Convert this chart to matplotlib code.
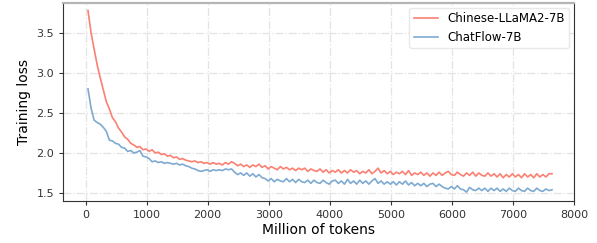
import numpy as np
import matplotlib
matplotlib.use("Agg")
import matplotlib.pyplot as plt

# Trainingsverlauf
tokens = np.arange(40, 7641, 50)

loss_llama = [
    3.78, 3.50, 3.30, 3.10, 2.94, 2.79, 2.64, 2.55, 2.44, 2.39,
    2.31, 2.26, 2.20, 2.17, 2.12, 2.10, 2.07, 2.08, 2.04, 2.05,
    2.02, 2.04, 2.00, 2.01, 1.98, 1.99, 1.96, 1.97, 1.94, 1.95,
    1.92, 1.93, 1.91, 1.90, 1.89, 1.90, 1.88, 1.89, 1.87, 1.88,
    1.86, 1.88, 1.86, 1.87, 1.85, 1.88, 1.86, 1.89,
    1.87, 1.84, 1.86, 1.83, 1.85, 1.82, 1.85, 1.83, 1.86, 1.82,
    1.84, 1.80, 1.83, 1.81, 1.79, 1.83, 1.80, 1.82, 1.79, 1.81,
    1.78, 1.81, 1.79, 1.81, 1.77, 1.80, 1.78, 1.77, 1.80, 1.76,
    1.79, 1.75, 1.78, 1.76, 1.79, 1.75, 1.78, 1.75, 1.79, 1.76,
    1.78, 1.74, 1.77, 1.75, 1.79, 1.74, 1.77, 1.81, 1.75, 1.78,
    1.74, 1.77, 1.73, 1.76, 1.74, 1.77, 1.73, 1.78, 1.72, 1.75,
    1.73, 1.76, 1.72, 1.75, 1.71, 1.75, 1.72, 1.76, 1.72, 1.75,
    1.77, 1.73, 1.72, 1.76, 1.73, 1.71, 1.75, 1.72, 1.76, 1.71,
    1.75, 1.72, 1.71, 1.75, 1.71, 1.74, 1.70, 1.74, 1.69, 1.73,
    1.70, 1.74, 1.70, 1.73, 1.69, 1.74, 1.70, 1.73, 1.69, 1.74,
    1.70, 1.73, 1.70, 1.74, 1.74,
]

loss_chatflow = [
    2.80, 2.56, 2.41, 2.38, 2.36, 2.32, 2.27, 2.16, 2.15, 2.12,
    2.11, 2.07, 2.06, 2.02, 2.03, 2.00, 2.01, 2.03, 1.96, 1.95,
    1.93, 1.89, 1.90, 1.88, 1.89, 1.87, 1.88, 1.87, 1.86, 1.87,
    1.85, 1.86, 1.84, 1.83, 1.81, 1.80, 1.78, 1.77, 1.78, 1.79,
    1.77, 1.79, 1.78, 1.79, 1.78, 1.80, 1.79, 1.80,
    1.76, 1.73, 1.75, 1.72, 1.75, 1.71, 1.74, 1.70, 1.73, 1.69,
    1.68, 1.65, 1.68, 1.64, 1.67, 1.65, 1.64, 1.68, 1.64, 1.67,
    1.63, 1.67, 1.64, 1.63, 1.66, 1.62, 1.66, 1.63, 1.62, 1.66,
    1.63, 1.61, 1.65, 1.66, 1.62, 1.65, 1.61, 1.67, 1.62, 1.65,
    1.61, 1.66, 1.62, 1.65, 1.61, 1.65, 1.68, 1.62, 1.65, 1.61,
    1.64, 1.61, 1.64, 1.60, 1.64, 1.61, 1.65, 1.60, 1.63, 1.59,
    1.62, 1.59, 1.62, 1.58, 1.61, 1.62, 1.58, 1.61, 1.58, 1.56,
    1.55, 1.58, 1.55, 1.59, 1.55, 1.54, 1.51, 1.57, 1.54, 1.53,
    1.56, 1.53, 1.56, 1.52, 1.56, 1.53, 1.56, 1.52, 1.55, 1.52,
    1.56, 1.53, 1.52, 1.56, 1.53, 1.52, 1.56, 1.53, 1.52, 1.56,
    1.53, 1.52, 1.55, 1.53, 1.54,
]

fig = plt.figure(figsize=(5.97, 2.43), dpi=100)
ax = fig.add_axes([0.1055, 0.173, 0.856, 0.815])

ax.plot(tokens, loss_llama, color='#fa8072', lw=1.2, label='Chinese-LLaMA2-7B')
ax.plot(tokens, loss_chatflow, color='#7eaad2', lw=1.2, label='ChatFlow-7B')

ax.set_xlim(-370, 8000)
ax.set_ylim(1.40, 3.875)
ax.set_xticks(range(0, 8001, 1000))
ax.set_yticks([1.5, 2.0, 2.5, 3.0, 3.5])

ax.grid(True, linestyle='-.', color='#e3e3e3', lw=0.9)
ax.set_axisbelow(True)

ax.spines['top'].set_color('#b5b5b5')
ax.spines['top'].set_linewidth(1.6)
for s in ['left', 'bottom', 'right']:
    ax.spines[s].set_color('#333333')
    ax.spines[s].set_linewidth(0.8)

ax.tick_params(labelsize=8, colors='#333333', length=3, width=0.8)
ax.set_xlabel('Million of tokens', fontsize=10, labelpad=2)
ax.set_ylabel('Training loss', fontsize=10, labelpad=4)

ax.legend(loc='upper right', fontsize=8.5, framealpha=1, edgecolor='#e8e8e8',
          handlelength=2.0, labelspacing=0.45, borderaxespad=0.4)

plt.savefig('out.png', dpi=100)
